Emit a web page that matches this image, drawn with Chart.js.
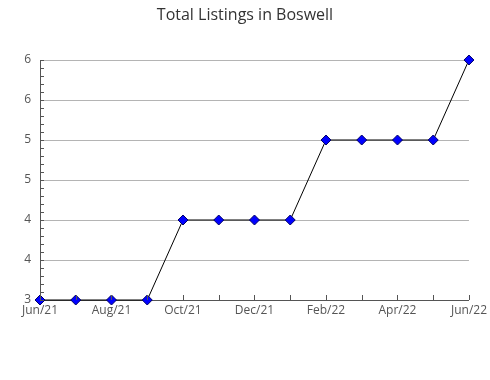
<!DOCTYPE html>
<html>
<head>
<meta charset="utf-8">
<script src="https://cdn.jsdelivr.net/npm/chart.js@4/dist/chart.umd.min.js"></script>
<style>
  html, body { margin: 0; padding: 0; background: #fff; }
  #wrap { width: 490px; height: 380px; }
</style>
</head>
<body>
<div id="wrap"><canvas id="chart" width="490" height="380"></canvas></div>
<script>
const chartTitle = 'Total Listings in Boswell';
const months = ['Jun/21', 'Jul/21', 'Aug/21', 'Sep/21', 'Oct/21', 'Nov/21', 'Dec/21',
                'Jan/22', 'Feb/22', 'Mar/22', 'Apr/22', 'May/22', 'Jun/22'];
const listings = [3, 3, 3, 3, 4, 4, 4, 4, 5, 5, 5, 5, 6];
const yMin = 3;
const yMax = 6;
const yStep = 0.5;
const minorStep = 0.1;

// title centred on the whole canvas (Chart.js title box would skip the right padding)
const canvasTitle = {
    id: 'canvasTitle',
    afterDraw(chart) {
        const ctx = chart.ctx;
        ctx.save();
        ctx.font = '16px "Open Sans"';
        ctx.fillStyle = '#333';
        ctx.textAlign = 'center';
        ctx.textBaseline = 'middle';
        ctx.fillText(chartTitle, chart.width / 2, 15);
        ctx.restore();
    }
};

// small tick marks drawn inside the plot area, like the original
const tickMarks = {
    id: 'tickMarks',
    afterDraw(chart) {
        const ctx = chart.ctx;
        const x = chart.scales.x;
        const y = chart.scales.y;
        ctx.save();
        ctx.strokeStyle = '#555';
        ctx.lineWidth = 1;
        ctx.beginPath();
        // month ticks pointing up from the bottom axis
        months.forEach((m, i) => {
            const px = Math.round(x.getPixelForValue(i)) + 0.5;
            ctx.moveTo(px, y.bottom);
            ctx.lineTo(px, y.bottom - 5);
        });
        // minor ticks on the left axis
        for (let v = yMin; v <= yMax + 1e-9; v += minorStep) {
            const py = Math.round(y.getPixelForValue(v)) + 0.5;
            ctx.moveTo(x.left, py);
            ctx.lineTo(x.left + 4, py);
        }
        ctx.stroke();
        ctx.restore();
    }
};

const ctx = document.getElementById('chart').getContext('2d');
new Chart(ctx, {
    type: 'line',
    data: {
        labels: months,
        datasets: [{
            label: 'Total Listings',
            data: listings,
            borderColor: '#000',
            borderWidth: 1,
            pointStyle: 'rectRot',
            pointRadius: 5,
            pointHoverRadius: 5,
            pointBackgroundColor: '#0000ff',
            pointBorderColor: '#000066',
            pointBorderWidth: 1,
            tension: 0,
            clip: false
        }]
    },
    options: {
        responsive: false,
        animation: false,
        layout: { padding: { left: 0, right: 20, top: 60, bottom: 0 } },
        plugins: {
            legend: { display: false },
            tooltip: { enabled: false },
            title: { display: false }
        },
        scales: {
            x: {
                type: 'category',
                offset: false,
                afterFit: s => { s.height = 80; },
                grid: { display: false, drawTicks: false },
                border: { display: true, color: '#555' },
                ticks: {
                    autoSkip: false,
                    maxRotation: 0,
                    padding: 3,
                    color: '#555',
                    font: { family: '"Open Sans"', size: 12 },
                    callback: (v, i) => (i % 2 === 0 ? months[i] : '')
                }
            },
            y: {
                min: yMin,
                max: yMax,
                afterFit: s => { s.width = 40; },
                grid: { color: '#b4b4b4', drawTicks: false },
                border: { display: true, color: '#555' },
                ticks: {
                    stepSize: yStep,
                    padding: 9,
                    color: '#555',
                    font: { family: '"Open Sans"', size: 12 },
                    callback: v => Math.round(v)
                }
            }
        }
    },
    plugins: [tickMarks, canvasTitle]
});
</script>
</body>
</html>
